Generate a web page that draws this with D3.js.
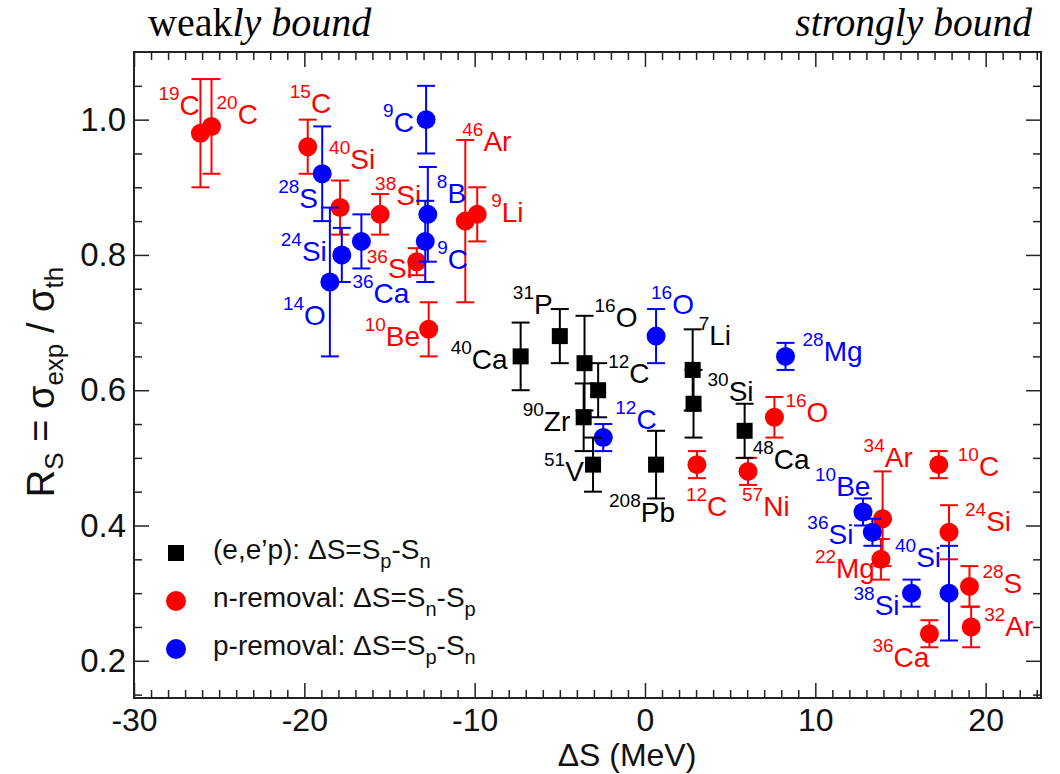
<!DOCTYPE html>
<html>
<head>
<meta charset="utf-8">
<script src="https://cdn.jsdelivr.net/npm/d3@7"></script>
<style>
  body { margin: 0; background: #fff; }
  text { font-family: "Liberation Sans", Arial, Helvetica, sans-serif; }
  .tick line { stroke: #222; stroke-width: 1.5; }
  .domain { display: none; }
</style>
</head>
<body>
<div id="chart"></div>
<script>
// (e,e'p) data : black squares
var eepMass = ["40", "31", "16", "12", "90", "51", "208", "7", "30", "48"];
var eepElem = ["Ca", "P", "O", "C", "Zr", "V", "Pb", "Li", "Si", "Ca"];
var eepDS = [-7.3, -5.0, -3.55, -2.75, -3.6, -3.05, 0.65, 2.8, 2.85, 5.85];
var eepRs = [0.65, 0.68, 0.64, 0.60, 0.56, 0.49, 0.49, 0.63, 0.58, 0.54];
var eepErr = [0.05, 0.04, 0.07, 0.04, 0.05, 0.04, 0.05, 0.06, 0.05, 0.04];

// n-removal data : red circles
var nMass = ["19", "20", "15", "40", "38", "36", "10", "46", "9", "12", "57", "16", "34", "10", "22", "24", "28", "32", "36"];
var nElem = ["C", "C", "C", "Si", "Si", "Si", "Be", "Ar", "Li", "C", "Ni", "O", "Ar", "C", "Mg", "Si", "S", "Ar", "Ca"];
var nDS = [-26.1, -25.45, -19.8, -17.9, -15.55, -13.4, -12.7, -10.55, -9.85, 3.05, 6.05, 7.6, 13.95, 17.25, 13.85, 17.85, 19.05, 19.15, 16.7];
var nRs = [0.98, 0.99, 0.96, 0.87, 0.86, 0.79, 0.69, 0.85, 0.86, 0.49, 0.48, 0.56, 0.41, 0.49, 0.35, 0.39, 0.31, 0.25, 0.24];
var nErr = [0.08, 0.07, 0.04, 0.04, 0.03, 0.02, 0.04, 0.12, 0.04, 0.02, 0.02, 0.03, 0.07, 0.02, 0.03, 0.04, 0.03, 0.03, 0.02];

// p-removal data : blue circles
var pMass = ["9", "28", "8", "9", "24", "36", "14", "16", "12", "28", "10", "36", "38", "40"];
var pElem = ["C", "S", "B", "C", "Si", "Ca", "O", "O", "C", "Mg", "Be", "Si", "Si", "Si"];
var pDS = [-12.85, -18.95, -12.75, -12.9, -17.8, -16.65, -18.5, 0.65, -2.45, 8.25, 12.8, 13.35, 15.65, 17.85];
var pRs = [1.0, 0.92, 0.86, 0.82, 0.80, 0.82, 0.76, 0.68, 0.53, 0.65, 0.42, 0.39, 0.30, 0.30];
var pErr = [0.05, 0.07, 0.07, 0.06, 0.04, 0.04, 0.11, 0.04, 0.02, 0.02, 0.02, 0.02, 0.02, 0.07];

// axis ticks
var xMajor = [-30, -20, -10, 0, 10, 20];
var yMajor = [0.2, 0.4, 0.6, 0.8, 1.0];

// label placement (pixel offset from the point)
var eepLabelOff = [[-70, 13], [-47, -22], [10, -36], [10, -7], [-61, 14], [-49, 16], [-47, 57], [6, -25], [14, -3], [8, 38]];
var nLabelOff = [[-42, -18], [5, -2], [-18, -34], [-11, -39], [-5, -9], [-50, 16], [-64, 17], [-3, -70], [14, 8],
  [-11, 51], [-6, 45], [11, 5], [-19, -52], [19, 11], [-66, 19], [16, -1], [13, 7], [13, 9], [-57, 33]];
var pLabelOff = [[-43, 12], [-44, 34], [9, -11], [12, 28], [-61, 6], [-9, 62], [-47, 43], [-5, -22], [12, -9],
  [17, 5], [-48, -16], [-65, 12], [-58, 22], [-54, -26]];

var svgWidth = 1060;
var svgHeight = 774;
var margin = { top: 52, right: 19, bottom: 76, left: 134 };
var width = svgWidth - margin.left - margin.right;
var height = svgHeight - margin.top - margin.bottom;

var svg = d3.select("#chart")
  .append("svg")
  .attr("width", svgWidth)
  .attr("height", svgHeight);

var chartGroup = svg.append("g")
  .attr("transform", `translate(${margin.left}, ${margin.top})`);

var xScale = d3.scaleLinear().domain([-30, 23.25]).range([0, width]);
var yScale = d3.scaleLinear().domain([0.145, 1.10]).range([height, 0]);

// minor ticks, all four sides, pointing inward
var xMinor = d3.range(-29, 24, 1).filter(d => xMajor.indexOf(d) < 0);
var yMinor = d3.range(0.15, 1.1, 0.05).map(d => +d.toFixed(2)).filter(d => yMajor.indexOf(d) < 0);

chartGroup.append("g").attr("transform", `translate(0, ${height})`)
  .call(d3.axisBottom(xScale).tickValues(xMinor).tickSize(-8).tickFormat(""));
chartGroup.append("g")
  .call(d3.axisTop(xScale).tickValues(xMinor).tickSize(-8).tickFormat(""));
chartGroup.append("g")
  .call(d3.axisLeft(yScale).tickValues(yMinor).tickSize(-8).tickFormat(""));
chartGroup.append("g").attr("transform", `translate(${width}, 0)`)
  .call(d3.axisRight(yScale).tickValues(yMinor).tickSize(-8).tickFormat(""));

// major ticks
var bottomAxis = chartGroup.append("g").attr("transform", `translate(0, ${height})`)
  .call(d3.axisBottom(xScale).tickValues(xMajor).tickSize(-15).tickPadding(10).tickFormat(d => String(d)));
chartGroup.append("g")
  .call(d3.axisTop(xScale).tickValues(xMajor).tickSize(-15).tickFormat(""));
var leftAxis = chartGroup.append("g")
  .call(d3.axisLeft(yScale).tickValues(yMajor).tickSize(-15).tickPadding(8).tickFormat(d3.format(".1f")));
chartGroup.append("g").attr("transform", `translate(${width}, 0)`)
  .call(d3.axisRight(yScale).tickValues(yMajor).tickSize(-15).tickFormat(""));

bottomAxis.selectAll("text").attr("font-size", 32).attr("fill", "#111");
leftAxis.selectAll("text").attr("font-size", 33).attr("fill", "#111");

chartGroup.append("rect")
  .attr("width", width)
  .attr("height", height)
  .attr("fill", "none")
  .attr("stroke", "#222")
  .attr("stroke-width", 2);

// draw one series: error bars, markers, labels
function drawSeries(dS, rs, err, mass, elem, offs, color, shape) {
  var rows = dS.map((d, i) => ({ x: d, y: rs[i], e: err[i], m: mass[i], el: elem[i], off: offs[i] }));
  var g = chartGroup.append("g");

  var bars = g.selectAll(".bar").data(rows).enter().append("g")
    .attr("stroke", color).attr("stroke-width", 2);
  bars.append("line")
    .attr("x1", d => xScale(d.x)).attr("x2", d => xScale(d.x))
    .attr("y1", d => yScale(d.y + d.e)).attr("y2", d => yScale(d.y - d.e));
  bars.append("line")
    .attr("x1", d => xScale(d.x) - 9).attr("x2", d => xScale(d.x) + 9)
    .attr("y1", d => yScale(d.y + d.e)).attr("y2", d => yScale(d.y + d.e));
  bars.append("line")
    .attr("x1", d => xScale(d.x) - 9).attr("x2", d => xScale(d.x) + 9)
    .attr("y1", d => yScale(d.y - d.e)).attr("y2", d => yScale(d.y - d.e));

  if (shape === "square") {
    g.selectAll(".pt").data(rows).enter().append("rect")
      .attr("x", d => xScale(d.x) - 8).attr("y", d => yScale(d.y) - 8)
      .attr("width", 16).attr("height", 16)
      .attr("fill", color);
  } else {
    g.selectAll(".pt").data(rows).enter().append("circle")
      .attr("cx", d => xScale(d.x)).attr("cy", d => yScale(d.y))
      .attr("r", 9.5)
      .attr("fill", color);
  }

  var labels = g.selectAll(".lab").data(rows).enter().append("text")
    .attr("x", d => xScale(d.x) + d.off[0])
    .attr("y", d => yScale(d.y) + d.off[1])
    .attr("fill", color);
  labels.append("tspan").attr("font-size", 19).attr("dy", -15).text(d => d.m);
  labels.append("tspan").attr("font-size", 28).attr("dy", 15).text(d => d.el);
}

drawSeries(nDS, nRs, nErr, nMass, nElem, nLabelOff, "#ff0000", "circle");
drawSeries(pDS, pRs, pErr, pMass, pElem, pLabelOff, "#0000ff", "circle");
drawSeries(eepDS, eepRs, eepErr, eepMass, eepElem, eepLabelOff, "#000000", "square");

// legend
var legend = [
  { c: "#000", shape: "square", parts: [["(e,e\u2019p): \u0394S=S", 0], ["p", 1], ["-S", 0], ["n", 1]] },
  { c: "#ff0000", shape: "circle", parts: [["n-removal: \u0394S=S", 0], ["n", 1], ["-S", 0], ["p", 1]] },
  { c: "#0000ff", shape: "circle", parts: [["p-removal: \u0394S=S", 0], ["p", 1], ["-S", 0], ["n", 1]] }
];
var legendY = [553, 601, 649];
legend.forEach(function (item, i) {
  var ly = legendY[i];
  if (item.shape === "square") {
    svg.append("rect").attr("x", 168).attr("y", ly - 8).attr("width", 16).attr("height", 16).attr("fill", item.c);
  } else {
    svg.append("circle").attr("cx", 176).attr("cy", ly).attr("r", 10).attr("fill", item.c);
  }
  var t = svg.append("text").attr("x", 213).attr("y", ly + 6).attr("font-size", 28).attr("fill", "#111");
  var shift = 0;
  item.parts.forEach(function (p) {
    var dy = p[1] ? 9 - shift : -shift;
    shift = p[1] ? 9 : 0;
    t.append("tspan").attr("dy", dy).attr("font-size", p[1] ? 20 : 28).text(p[0]);
  });
});

// axis titles
svg.append("text")
  .attr("x", 627).attr("y", 766)
  .attr("text-anchor", "middle")
  .attr("font-size", 32)
  .attr("fill", "#111")
  .text("\u0394S  (MeV)");

var yTitle = svg.append("text")
  .attr("transform", "translate(54, 382) rotate(-90)")
  .attr("text-anchor", "middle")
  .attr("font-size", 38)
  .attr("fill", "#111");
yTitle.append("tspan").text("R");
yTitle.append("tspan").attr("font-size", 26).attr("dy", 9).text("S");
yTitle.append("tspan").attr("dy", -9).text(" = \u03c3");
yTitle.append("tspan").attr("font-size", 26).attr("dy", 9).text("exp");
yTitle.append("tspan").attr("dy", -9).text(" / \u03c3");
yTitle.append("tspan").attr("font-size", 26).attr("dy", 9).text("th");

// top notes (serif)
var weak = svg.append("text")
  .attr("x", 148).attr("y", 36)
  .style("font-family", "'Liberation Serif', 'Times New Roman', serif")
  .attr("font-size", 40)
  .attr("fill", "#000");
weak.append("tspan").text("weak");
weak.append("tspan").attr("font-style", "italic").text("ly bound");

svg.append("text")
  .attr("x", 1032).attr("y", 36)
  .attr("text-anchor", "end")
  .style("font-family", "'Liberation Serif', 'Times New Roman', serif")
  .attr("font-style", "italic")
  .attr("font-size", 39.5)
  .attr("fill", "#000")
  .text("strongly bound");
</script>
</body>
</html>
